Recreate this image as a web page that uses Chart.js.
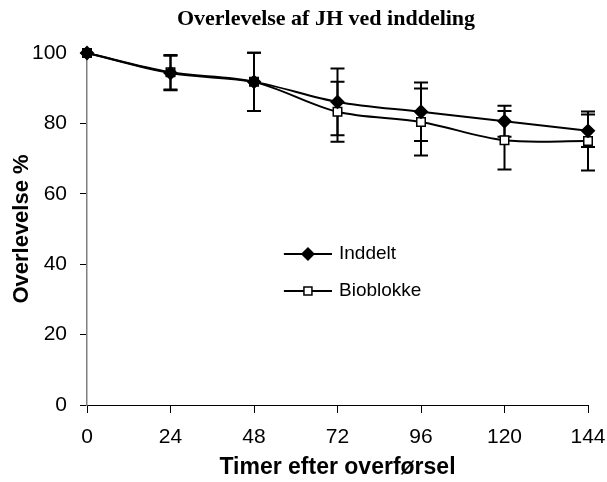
<!DOCTYPE html>
<html>
<head>
<meta charset="utf-8">
<script src="https://cdn.jsdelivr.net/npm/chart.js@4"></script>
<style>
  html, body { margin: 0; padding: 0; background: #fff; }
  #wrap { width: 607px; height: 482px; }
</style>
</head>
<body>
<div id="wrap"><canvas id="chart" width="607" height="482"></canvas></div>
<script>
// data
const hours = [0, 24, 48, 72, 96, 120, 144];
const xTicks = [0, 24, 48, 72, 96, 120, 144];
const yTicks = [0, 20, 40, 60, 80, 100];

const inddelt    = [100, 94.3, 91.8, 86.1, 83.3, 80.6, 77.9];
const inddeltErr = [0, 4.9, 8.3, 9.5, 8.3, 4.4, 4.6];
const bioblokke    = [100, 94.5, 91.8, 83.3, 80.4, 75.2, 75.0];
const bioblokkeErr = [0, 4.9, 8.3, 8.5, 9.5, 8.3, 8.4];

const titleText = 'Overlevelse af JH ved inddeling';
const xTitle = 'Timer efter overførsel';
const yTitle = 'Overlevelse %';

const SANS = '"Liberation Sans", Arial, sans-serif';
const SERIF = '"Liberation Serif", "Times New Roman", serif';

function pts(vals) {
  return hours.map((h, i) => ({ x: h, y: vals[i] }));
}

// error bars under the markers
const errorBars = {
  id: 'errorBars',
  beforeDatasetsDraw(chart) {
    const { ctx, scales: { x, y } } = chart;
    ctx.save();
    ctx.strokeStyle = '#000';
    ctx.lineWidth = 2;
    chart.data.datasets.forEach(ds => {
      ds.data.forEach((p, i) => {
        const e = ds.errors[i];
        if (!e) return;
        const px = x.getPixelForValue(p.x);
        const top = y.getPixelForValue(p.y + e);
        const bot = y.getPixelForValue(p.y - e);
        ctx.beginPath();
        ctx.moveTo(px, top); ctx.lineTo(px, bot);
        ctx.moveTo(px - 7, top); ctx.lineTo(px + 7, top);
        ctx.moveTo(px - 7, bot); ctx.lineTo(px + 7, bot);
        ctx.stroke();
      });
    });
    ctx.restore();
  }
};

// title + legend inside the plot
const extras = {
  id: 'extras',
  afterDraw(chart) {
    const { ctx, chartArea: a } = chart;
    ctx.save();
    ctx.fillStyle = '#000';
    ctx.font = 'bold 22px ' + SERIF;
    ctx.textAlign = 'center';
    ctx.textBaseline = 'middle';
    ctx.fillText(titleText, 326, 19);

    const w = a.right - a.left, h = a.bottom - a.top;
    const x0 = a.left + 0.393 * w, x1 = a.left + 0.489 * w, tx = a.left + 0.503 * w;
    const rows = [0.571, 0.676];
    ctx.font = '19px ' + SANS;
    ctx.textAlign = 'left';
    chart.data.datasets.forEach((ds, i) => {
      const yy = a.top + rows[i] * h;
      ctx.strokeStyle = '#000';
      ctx.lineWidth = 2;
      ctx.beginPath();
      ctx.moveTo(x0, yy); ctx.lineTo(x1, yy);
      ctx.stroke();
      const cx = (x0 + x1) / 2;
      ctx.lineWidth = 1.5;
      ctx.beginPath();
      if (ds.pointStyle === 'rectRot') {
        ctx.moveTo(cx - 6, yy); ctx.lineTo(cx, yy - 6);
        ctx.lineTo(cx + 6, yy); ctx.lineTo(cx, yy + 6);
        ctx.closePath();
        ctx.fillStyle = '#000';
        ctx.fill();
      } else {
        ctx.rect(cx - 4, yy - 4, 8, 8);
        ctx.fillStyle = '#fff';
        ctx.fill();
      }
      ctx.stroke();
      ctx.fillStyle = '#000';
      ctx.fillText(ds.label, tx, yy);
    });
    ctx.restore();
  }
};

new Chart(document.getElementById('chart'), {
  type: 'line',
  data: {
    datasets: [
      {
        label: 'Inddelt',
        data: pts(inddelt),
        errors: inddeltErr,
        borderColor: '#000',
        borderWidth: 2,
        pointStyle: 'rectRot',
        pointRadius: 6,
        pointBackgroundColor: '#000',
        pointBorderColor: '#000',
        tension: 0.33,
        clip: false
      },
      {
        label: 'Bioblokke',
        data: pts(bioblokke),
        errors: bioblokkeErr,
        borderColor: '#000',
        borderWidth: 2,
        pointStyle: 'rect',
        pointRadius: 6,
        pointBorderWidth: 1.5,
        pointBackgroundColor: '#fff',
        pointBorderColor: '#000',
        tension: 0.33,
        clip: false
      }
    ]
  },
  options: {
    responsive: false,
    animation: false,
    layout: { padding: { top: 53, right: 19, left: 0, bottom: 0 } },
    plugins: { legend: { display: false }, tooltip: { enabled: false } },
    scales: {
      x: {
        type: 'linear',
        min: 0, max: 144,
        afterBuildTicks: s => { s.ticks = xTicks.map(v => ({ value: v })); },
        afterFit: s => { s.height = 77; s.paddingLeft = 0; s.paddingRight = 0; },
        grid: { drawOnChartArea: false, drawTicks: true, tickLength: 8, color: '#000' },
        border: { color: '#000', width: 1 },
        ticks: { color: '#000', font: { family: SANS, size: 21 }, padding: 12, maxRotation: 0 },
        title: { display: true, text: xTitle, color: '#000', font: { family: SANS, size: 23, weight: 'bold' }, padding: { top: 0, bottom: 1 } }
      },
      y: {
        min: 0, max: 100,
        afterBuildTicks: s => { s.ticks = yTicks.map(v => ({ value: v })); },
        afterFit: s => { s.width = 87; },
        grid: { drawOnChartArea: false, drawTicks: true, tickLength: 7, color: '#000' },
        border: { color: '#808080', width: 1.5 },
        ticks: { color: '#000', font: { family: SANS, size: 21 }, padding: 13 },
        title: { display: true, text: yTitle, color: '#000', font: { family: SANS, size: 22, weight: 'bold' }, padding: { top: 9, bottom: 0 } }
      }
    }
  },
  plugins: [errorBars, extras]
});
</script>
</body>
</html>
